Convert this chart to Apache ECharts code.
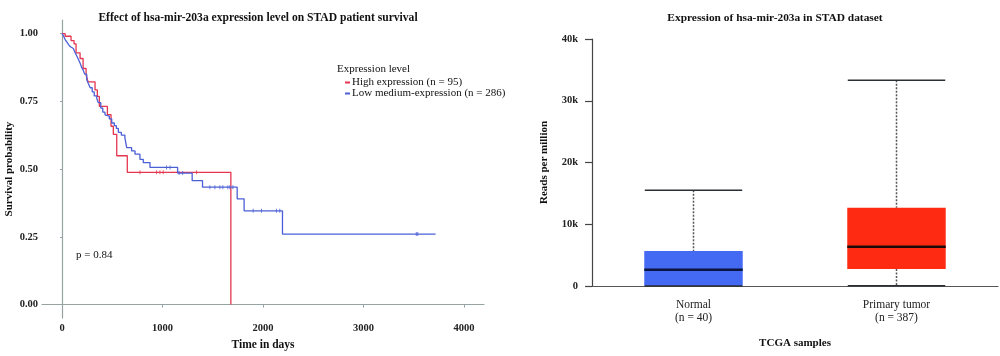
<!DOCTYPE html>
<html>
<head>
<meta charset="utf-8">
<script src="https://cdn.jsdelivr.net/npm/echarts@6/dist/echarts.min.js"></script>
<style>
html,body{margin:0;padding:0;background:#fff;}
#c{width:1000px;height:356px;}
</style>
</head>
<body>
<div id="c"></div>
<script>
// ---- Kaplan-Meier data (time in days, survival probability) ----
var highSteps = [[0,1.0],[30,0.99],[89,0.974],[119,0.962],[139,0.929],[179,0.908],[209,0.871],[239,0.847],[258,0.822],[328,0.792],[351,0.768],[371,0.731],[451,0.701],[487,0.658],[510,0.628],[544,0.549],[649,0.488],[1680,0.0]];
var highCensor = [[775,0.488],[941,0.488],[974,0.488],[1007,0.488],[1339,0.488]];
var lowSteps = [[0,1.0],[15,0.99],[30,0.978],[45,0.97],[63,0.96],[80,0.952],[96,0.945],[112,0.938],[129,0.93],[145,0.918],[162,0.905],[180,0.89],[195,0.875],[210,0.865],[225,0.85],[245,0.83],[261,0.816],[280,0.80],[300,0.785],[320,0.77],[345,0.76],[361,0.745],[385,0.725],[405,0.71],[427,0.70],[445,0.695],[470,0.685],[494,0.67],[520,0.66],[540,0.65],[560,0.635],[590,0.625],[625,0.616],[643,0.579],[692,0.567],[726,0.555],[775,0.536],[808,0.524],[875,0.506],[1150,0.485],[1295,0.457],[1398,0.433],[1743,0.39],[1812,0.346],[2194,0.26],[3718,0.26]];
var lowCensor = [[1040,0.506],[1075,0.506],[1165,0.485],[1200,0.485],[1471,0.433],[1521,0.433],[1571,0.433],[1600,0.433],[1650,0.433],[1670,0.433],[1700,0.433],[1902,0.346],[1985,0.346],[2134,0.346],[2167,0.346],[3526,0.26],[3541,0.26]];
var kmTimeTicks = [0,1000,2000,3000,4000];
var kmProbTicks = [0,0.25,0.5,0.75,1];
var seriesNames = ['High expression (n = 95)','Low medium-expression (n = 286)'];
var pValueText = 'p = 0.84';

// ---- Boxplot data: [min, Q1, median, Q3, max] ----
var boxCategories = ['Normal\n(n = 40)','Primary tumor\n(n = 387)'];
var boxStats = [[0,0,2640,5660,15500],[50,2750,6360,12670,33300]];
var rpmTicks = [0,10000,20000,30000,40000];

var FONT = '"Liberation Serif", "DejaVu Serif", serif';
var KM_RED = '#e5354f';
var KM_BLUE = '#4b5fd6';
var BOX_COLORS = ['#4469f2','#fe2a12'];
var MEDIAN_COLORS = ['#0b1540','#1a0a08'];
var AXIS_GREY = '#97a3a3';

var chart = echarts.init(document.getElementById('c'), null, {renderer:'canvas'});

var option = {
  animation: false,
  backgroundColor: '#fff',
  title: [
    {text:'Effect of hsa-mir-203a expression level on STAD patient survival', left:253, top:7, textAlign:'center',
     textStyle:{fontFamily:FONT, fontWeight:'bold', fontSize:11.6, color:'#111'}},
    {text:'Expression of hsa-mir-203a in STAD dataset', left:770, top:8, textAlign:'center',
     textStyle:{fontFamily:FONT, fontWeight:'bold', fontSize:11.4, color:'#111'}}
  ],
  legend: {
    data: seriesNames, orient:'vertical', left:340, top:72, itemGap:0,
    itemWidth:5, itemHeight:2, icon:'rect',
    textStyle:{fontFamily:FONT, fontSize:11, color:'#111', padding:[0,0,0,-3]}
  },
  graphic: [
    {type:'text', left:337, top:64, style:{text:'Expression level', font:'11px ' + FONT, fill:'#111'}},
    {type:'text', left:76, top:250, style:{text:pValueText, font:'11px ' + FONT, fill:'#111'}}
  ],
  grid: [
    {left:42, right:516, top:20, bottom:35},
    {left:592, right:2, top:39, bottom:70}
  ],
  xAxis: [
    {gridIndex:0, type:'value', min:-200, max:4200,
     name:'Time in days', nameLocation:'middle', nameGap:18,
     nameTextStyle:{fontFamily:FONT, fontWeight:'bold', fontSize:11.5, color:'#111'},
     axisLine:{show:true, lineStyle:{color:AXIS_GREY, width:1.2}},
     axisTick:{show:true, length:3, lineStyle:{color:AXIS_GREY}, customValues:kmTimeTicks},
     axisLabel:{customValues:kmTimeTicks, fontFamily:FONT, fontWeight:'bold', fontSize:10.5, color:'#222', margin:5,
       formatter:function(v){return String(v);}},
     splitLine:{show:false}},
    {gridIndex:1, type:'category', data:boxCategories, boundaryGap:true,
     name:'TCGA samples', nameLocation:'middle', nameGap:52,
     nameTextStyle:{fontFamily:FONT, fontWeight:'bold', fontSize:11, color:'#111'},
     axisLine:{show:true, lineStyle:{color:'#555', width:1.2}},
     axisTick:{show:false},
     axisLabel:{fontFamily:FONT, fontSize:11.5, color:'#222', margin:12, lineHeight:13}}
  ],
  yAxis: [
    {gridIndex:0, type:'value', min:-0.05, max:1.05,
     name:'Survival probability', nameLocation:'middle', nameGap:27, nameRotate:90,
     nameTextStyle:{fontFamily:FONT, fontWeight:'bold', fontSize:11, color:'#111'},
     axisLine:{show:true, lineStyle:{color:AXIS_GREY, width:1.2}},
     axisTick:{show:true, length:2, lineStyle:{color:AXIS_GREY}, customValues:kmProbTicks},
     axisLabel:{customValues:kmProbTicks, fontFamily:FONT, fontWeight:'bold', fontSize:10.5, color:'#222', margin:4,
       formatter:function(v){return v.toFixed(2);}},
     splitLine:{show:false}},
    {gridIndex:1, type:'value', min:0, max:40000, interval:10000,
     name:'Reads per million', nameLocation:'middle', nameGap:42, nameRotate:90,
     nameTextStyle:{fontFamily:FONT, fontWeight:'bold', fontSize:11, color:'#111'},
     axisLine:{show:true, lineStyle:{color:'#444', width:1.2}},
     axisTick:{show:true, length:7, lineStyle:{color:'#444', width:1.2}},
     axisLabel:{fontFamily:FONT, fontWeight:'bold', fontSize:10.5, color:'#222', margin:14,
       formatter:function(v){return v === 0 ? '0' : (v/1000) + 'k';}},
     splitLine:{show:false}}
  ],
  series: [
    {name:seriesNames[0], type:'line', xAxisIndex:0, yAxisIndex:0, data:highSteps, step:'end',
     showSymbol:false, symbol:'none', lineStyle:{color:KM_RED, width:1.3}, itemStyle:{color:KM_RED}, z:3},
    {name:seriesNames[1], type:'line', xAxisIndex:0, yAxisIndex:0, data:lowSteps, step:'end',
     showSymbol:false, symbol:'none', lineStyle:{color:KM_BLUE, width:1.3}, itemStyle:{color:KM_BLUE}, z:4},
    {name:'highCensor', type:'scatter', xAxisIndex:0, yAxisIndex:0, data:highCensor,
     symbol:'rect', symbolSize:[1,4], itemStyle:{color:KM_RED}, z:5},
    {name:'lowCensor', type:'scatter', xAxisIndex:0, yAxisIndex:0, data:lowCensor,
     symbol:'rect', symbolSize:[1,4], itemStyle:{color:KM_BLUE}, z:5},
    {name:'box', type:'custom', xAxisIndex:1, yAxisIndex:1,
     data: boxStats.map(function(s,i){return [i].concat(s);}),
     encode:{x:0, y:[1,2,3,4,5]},
     renderItem:function(params, api){
       var i = api.value(0);
       var bw = api.size([1,0])[0];
       var boxW = bw*0.485, capW = bw*0.24;
       var pMin = api.coord([i, api.value(1)]);
       var pQ1 = api.coord([i, api.value(2)]);
       var pMed = api.coord([i, api.value(3)]);
       var pQ3 = api.coord([i, api.value(4)]);
       var pMax = api.coord([i, api.value(5)]);
       var cx = pMed[0];
       var children = [];
       children.push({type:'line', shape:{x1:cx, y1:pMax[1], x2:cx, y2:pQ3[1]},
         style:{stroke:'#555', lineWidth:1.5, lineDash:[2,1.5]}});
       children.push({type:'line', shape:{x1:cx, y1:pQ1[1], x2:cx, y2:pMin[1]},
         style:{stroke:'#555', lineWidth:1.5, lineDash:[2,1.5]}});
       children.push({type:'rect', shape:{x:cx-boxW/2, y:pQ3[1], width:boxW, height:pQ1[1]-pQ3[1]},
         style:{fill:BOX_COLORS[i], stroke:null}});
       children.push({type:'line', shape:{x1:cx-boxW/2, y1:pMed[1], x2:cx+boxW/2, y2:pMed[1]},
         style:{stroke:MEDIAN_COLORS[i], lineWidth:2.5}});
       children.push({type:'line', shape:{x1:cx-capW, y1:pMax[1], x2:cx+capW, y2:pMax[1]},
         style:{stroke:'#2a2f33', lineWidth:1.5}});
       children.push({type:'line', shape:{x1:cx-capW, y1:pMin[1], x2:cx+capW, y2:pMin[1]},
         style:{stroke:'#2a2f33', lineWidth:1.5}});
       return {type:'group', children:children};
     }, z:3}
  ]
};
chart.setOption(option);
</script>
</body>
</html>
